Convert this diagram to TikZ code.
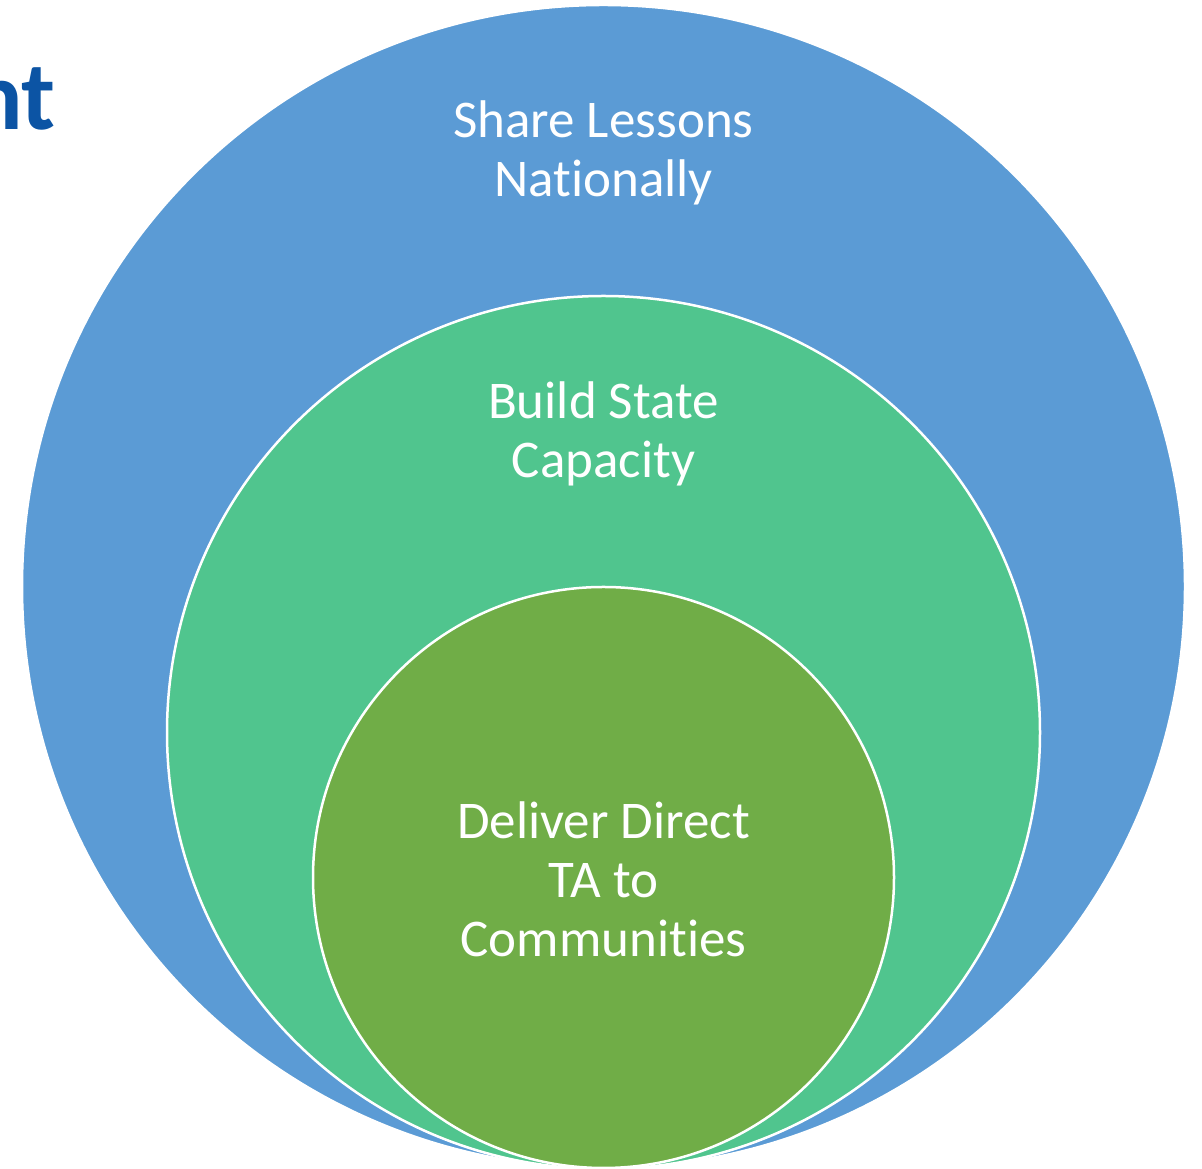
\documentclass[tikz,border=0pt]{standalone}
\usepackage{fontspec}
\setmainfont{Carlito}[Ligatures=NoCommon]
\usepackage{tikz}
\usetikzlibrary{positioning,shapes}
\definecolor{ringBlue}{RGB}{91,155,213}
\definecolor{ringMint}{RGB}{80,197,142}
\definecolor{ringGreen}{RGB}{112,173,71}
\definecolor{titleBlue}{RGB}{12,84,164}
\tikzstyle{ring} = [circle, draw=white, line width=2.5pt, inner sep=0pt]
\tikzstyle{ringtext} = [align=center, text=white, font=\fontsize{53}{59}\selectfont]

\begin{document}
\begin{tikzpicture}[x=1pt, y=1pt]
        \useasboundingbox (0,0) rectangle (1202,1169);
        \node[ring, fill=ringBlue, minimum size=1163pt] (nat) at (603.5,582.5) {};
        \node[ring, fill=ringMint, minimum size=873pt] (state) at (603.5,436.5) {};
        \node[ring, fill=ringGreen, minimum size=581pt] (comm) at (603.5,291.5) {};
        \node[ringtext] (natText) at (603.5,1016) {Share Lessons\\Nationally};
        \node[ringtext] (stateText) at (603.5,735) {Build State\\Capacity};
        \node[ringtext] (commText) at (603.5,290) {Deliver Direct\\TA to\\Communities};
        \node[anchor=base east, inner sep=0pt, text=titleBlue, font=\fontsize{98}{108}\selectfont\bfseries] (title) at (56,1039) {nt};
        \end{tikzpicture}
\end{document}
